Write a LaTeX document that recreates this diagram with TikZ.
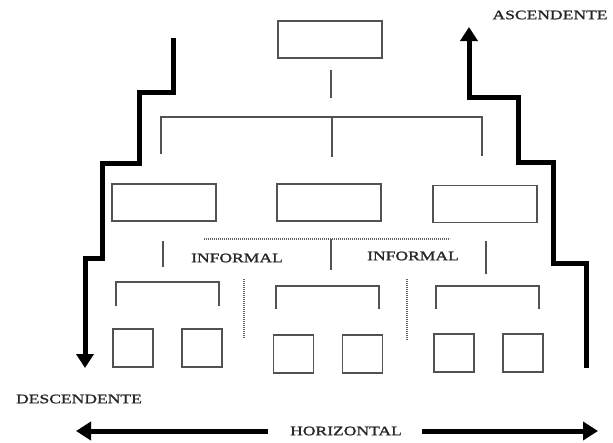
\documentclass[tikz,border=0pt]{standalone}
\usepackage{fontspec}
\usetikzlibrary{arrows.meta}
\newfontfamily\engr[FakeStretch=1.35,FakeBold=1.2]{Liberation Serif}
\begin{document}
\begin{tikzpicture}[x=1pt,y=-1pt,
  thin line/.style={draw=black!68,line width=1.6pt},
  dotline/.style={draw=black!62,line width=1.5pt,dash pattern=on 1.1pt off 0.9pt},
  box/.style={draw=black!68,line width=1.6pt,minimum width=104pt,minimum height=37pt,inner sep=0pt},
  sbox/.style={draw=black!68,line width=1.6pt,minimum width=40pt,minimum height=38pt,inner sep=0pt},
  flow/.style={draw=black,line width=5pt,line join=miter,-{Triangle[width=17pt,length=14pt]}},
  harrow/.style={draw=black,line width=5pt,-{Triangle[width=18pt,length=15pt]}},
  lbl/.style={font=\engr\fontsize{13}{15}\selectfont,inner sep=0pt,text=black!85}]
\useasboundingbox (0,0) rectangle (613,442);
\fill[white] (0,0) rectangle (613,442);
% boxes
\node[box] (top) at (330,39.5) {};
\node[box] (l2a) at (164,202.5) {};
\node[box] (l2b) at (329,202.5) {};
\node[box] (l2c) at (485,204) {};
\node[sbox] (s1) at (133,348) {};
\node[sbox] (s2) at (202,348) {};
\node[sbox] (s3) at (293.5,354) {};
\node[sbox] (s4) at (362.5,354) {};
\node[sbox] (s5) at (454,353) {};
\node[sbox] (s6) at (523,353) {};
% top connectors
\draw[thin line] (331,70) -- (331,98);
\draw[thin line] (161,154) -- (161,117) -- (482,117) -- (482,156);
\draw[thin line] (332,117) -- (332,157);
% level 2 to 3
\draw[thin line] (163,241) -- (163,267);
\draw[thin line] (331,239) -- (331,270);
\draw[thin line] (486,241) -- (486,274);
\draw[thin line] (116,306) -- (116,282) -- (219,282) -- (219,306);
\draw[thin line] (276,309) -- (276,286) -- (379,286) -- (379,309);
\draw[thin line] (436,309) -- (436,286) -- (539,286) -- (539,309);
% informal dotted
\draw[dotline] (204,239) -- (450,239);
\draw[dotline] (244,279) -- (244,338);
\draw[dotline] (407,279) -- (407,340);
\node[lbl] (inf1) at (237,258) {INFORMAL};
\node[lbl] (inf2) at (413,256) {INFORMAL};
% staircases
\draw[flow] (173,38) -- (173,92) -- (139,92) -- (139,163) -- (102,163) -- (102,258) -- (85,258) -- (85,368);
\draw[flow] (586,368) -- (586,263) -- (553,263) -- (553,162) -- (518,162) -- (518,97) -- (469,97) -- (469,27);
\node[lbl] (asc) at (550,15) {ASCENDENTE};
\node[lbl] (desc) at (79,399) {DESCENDENTE};
% horizontal
\node[lbl] (hor) at (346,431) {HORIZONTAL};
\coordinate (hl) at (76,431);
\coordinate (hr) at (598,431);
\draw[harrow] ([xshift=-22pt]hor.west) -- (hl);
\draw[harrow] ([xshift=20pt]hor.east) -- (hr);
\end{tikzpicture}
\end{document}
